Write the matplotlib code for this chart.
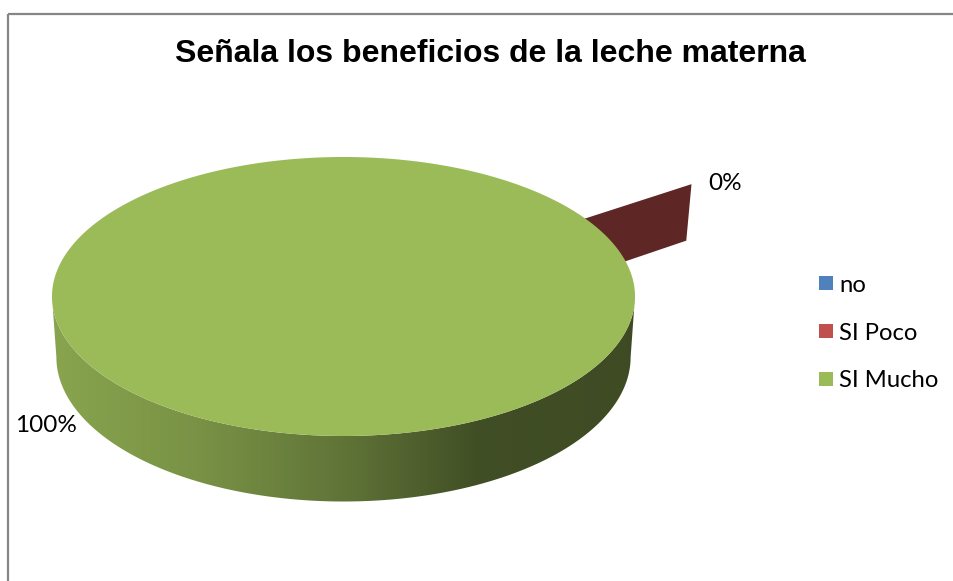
import numpy as np
import matplotlib.pyplot as plt
from matplotlib.patches import Polygon, Rectangle, Patch
from matplotlib.colors import to_rgb

categorias = ["no", "SI Poco", "SI Mucho"]
valores = [0, 0, 100]
colores = ["#4F81BD", "#C0504D", "#9BBB59"]
separacion = [0.0, 0.44, 0.0]
titulo = "Señala los beneficios de la leche materna"

W, H = 954, 581
cx, cy = 343.5, 296.5      # centro de la cara superior
rx, ry = 291.5, 139.5      # semiejes de la elipse
angulo_inicio = 34.0


def proy(u, v, z=0.0):
    # u, v en coordenadas del circulo; z=0 arriba, z=1 base del cilindro
    x = cx + rx * u * (1 - 0.015 * z)
    y = cy - ry * v + z * (60.5 - 5 * v)
    return x, y


def oscuro(c, f):
    return tuple(np.array(to_rgb(c)) * f)


fig = plt.figure(figsize=(W / 100, H / 100), dpi=100)
ax = fig.add_axes([0, 0, 1, 1])
ax.set_xlim(0, W)
ax.set_ylim(H, 0)
ax.axis("off")

# marco del grafico
ax.add_patch(Rectangle((8.5, 13.5), 960, 600, fill=False, edgecolor="#868686", lw=1.6))

total = sum(valores)
acum = 0
porciones = []
for i, v in enumerate(valores):
    t1 = angulo_inicio - 360 * acum / total
    t2 = t1 - 360 * v / total
    acum += v
    m = np.radians((t1 + t2) / 2)
    e = separacion[i]
    porciones.append((i, v, t1, t2, e * np.cos(m), e * np.sin(m)))

# caras radiales de las porciones separadas (quedan detras)
for i, v, t1, t2, ou, ov in porciones:
    if separacion[i] == 0:
        continue
    for t in {t1, t2}:
        d = np.radians(t)
        pts = [proy(ou, ov, 0), proy(ou + np.cos(d), ov + np.sin(d), 0),
               proy(ou + np.cos(d), ov + np.sin(d), 1), proy(ou, ov, 1)]
        ax.add_patch(Polygon(pts, closed=True, facecolor=oscuro(colores[i], 0.49),
                             edgecolor="none", zorder=2))

# paredes laterales frontales con degradado
fx = [0.0, 0.25, 0.5, 0.73, 1.0]
fv = [0.88, 0.78, 0.62, 0.42, 0.40]
for i, v, t1, t2, ou, ov in porciones:
    if v == 0:
        continue
    th = np.linspace(t2, t1, 1441)
    frente = np.sin(np.radians(th)) <= 0
    tramos = np.split(np.arange(len(th)), np.where(np.diff(frente.astype(int)) != 0)[0] + 1)
    for idx in tramos:
        if not frente[idx[0]]:
            continue
        r = np.radians(th[idx])
        arriba = [proy(ou + np.cos(a), ov + np.sin(a), 0) for a in r]
        abajo = [proy(ou + np.cos(a), ov + np.sin(a), 1) for a in r[::-1]]
        pared = Polygon(arriba + abajo, closed=True, facecolor="none", edgecolor="none")
        ax.add_patch(pared)
        xs = np.linspace(0, 1, 600)
        f = np.interp(xs, fx, fv)
        img = np.array(to_rgb(colores[i]))[None, None, :] * f[None, :, None]
        x0, x1 = proy(ou - 1, 0)[0], proy(ou + 1, 0)[0]
        im = ax.imshow(img, extent=(x0, x1, 520, 280), aspect="auto",
                       interpolation="bilinear", zorder=3)
        im.set_clip_path(pared)

# caras superiores
for i, v, t1, t2, ou, ov in porciones:
    if v == 0:
        continue
    r = np.radians(np.linspace(t1, t2, 721))
    pts = [proy(ou + np.cos(a), ov + np.sin(a), 0) for a in r]
    if v < total:
        pts.append(proy(ou, ov, 0))
    ax.add_patch(Polygon(pts, closed=True, facecolor=colores[i], edgecolor="none", zorder=4))

# etiquetas de porcentaje
for i, v, t1, t2, ou, ov in porciones:
    if i == 0:
        continue
    m = np.radians((t1 + t2) / 2)
    txt = f"{round(100 * v / total)}%"
    if np.cos(m) >= 0:
        x, y = proy(ou + 1.09 * np.cos(m), ov + 1.09 * np.sin(m), 0)
        ax.text(x - 5, y + 6, txt, ha="left", va="center", fontsize=17.5,
                family="Lato", zorder=5)
    else:
        x, y = proy(1.1 * np.cos(m), 1.1 * np.sin(m), 0.65)
        ax.text(x - 3, y + 2, txt, ha="right", va="center", fontsize=17.5,
                family="Lato", zorder=5)

ax.text(490, 54, titulo, ha="center", va="center", fontsize=23,
        fontweight="bold", family="Liberation Sans")

fig.legend(handles=[Patch(facecolor=c, edgecolor="none") for c in colores],
           labels=categorias, loc="center left", bbox_to_anchor=(798 / W, 1 - 333 / H),
           frameon=False, handlelength=0.57, handleheight=0.57, handletextpad=0.25,
           labelspacing=1.13, prop={"family": "Lato", "size": 17.2})

fig.savefig("out.png", dpi=100)
